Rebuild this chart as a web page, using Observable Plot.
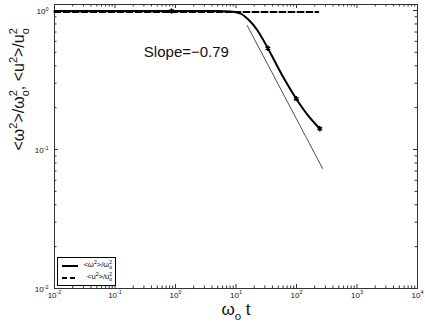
<!DOCTYPE html>
<html>
<head>
<meta charset="utf-8">
<script src="https://cdn.jsdelivr.net/npm/d3@7"></script>
<script src="https://cdn.jsdelivr.net/npm/@observablehq/plot@0.6"></script>
<style>
  body { margin: 0; background: #fff; }
  #chart { width: 425px; height: 327px; }
  svg text { font-family: "Liberation Sans", Arial, Helvetica, sans-serif; }
</style>
</head>
<body>
<div id="chart"></div>
<script>
// ---- data ----
const omegaT     = [0.01, 0.86, 5, 8.2, 11.9, 16, 22.4, 33.6, 58, 99, 150, 243];
const omegaRatio = [0.99, 0.99, 0.99, 0.985, 0.95, 0.86, 0.724, 0.535, 0.342, 0.232, 0.179, 0.141];
const markerT     = [0.86, 33.6, 99, 243];
const markerRatio = [0.99, 0.535, 0.232, 0.141];
const uT     = [0.01, 229];
const uRatio = [0.975, 0.975];
const slopeT     = [15.3, 270];
const slopeRatio = [0.78, 0.073];
const slopeLabel = "Slope=−0.79";
const slopeLabelT = 0.3;
const slopeLabelRatio = 0.5;
const xTickExp = [-2, -1, 0, 1, 2, 3, 4];
const yTickExp = [-2, -1, 0];
const xLabel = "ω_{o} t";
const yLabel = "<ω^{2}>/ω^{2}_{o}, <u^{2}>/u^{2}_{o}";
const legendLabels = ["<ω^{2}>/ω^{2}_{o}", "<u^{2}>/u^{2}_{o}"];

// ---- layout ----
const W = 425, H = 327;
const mL = 54, mR = 8, mT = 4, mB = 39;
const innerW = W - mL - mR, innerH = H - mT - mB;
const MAJ = 4, MIN = 2.5;
const axisColor = "#333";

const omegaData = omegaT.map((t, i) => ({t, r: omegaRatio[i]}));
const markerData = markerT.map((t, i) => ({t, r: markerRatio[i]}));
const uData = uT.map((t, i) => ({t, r: uRatio[i]}));
const slopeData = slopeT.map((t, i) => ({t, r: slopeRatio[i]}));

const majorX = xTickExp.map(e => 10 ** e);
const minorX = [];
for (let e = xTickExp[0]; e < xTickExp[xTickExp.length - 1]; e++) for (let m = 2; m <= 9; m++) minorX.push(m * 10 ** e);
const majorY = yTickExp.map(e => 10 ** e);
const minorY = [];
for (let e = yTickExp[0]; e < yTickExp[yTickExp.length - 1]; e++) for (let m = 2; m <= 9; m++) minorY.push(m * 10 ** e);

const chart = Plot.plot({
  width: W, height: H,
  marginLeft: mL, marginRight: mR, marginTop: mT, marginBottom: mB,
  style: {background: "white", color: "#111", fontFamily: "Liberation Sans, Arial, sans-serif"},
  x: {type: "log", domain: [1e-2, 1e4], axis: null},
  y: {type: "log", domain: [0.01, 1.104], axis: null},
  marks: [
    // ticks inward on all four sides
    Plot.tickX(majorX, {x: d => d, stroke: axisColor, insetTop: innerH - MAJ}),
    Plot.tickX(majorX, {x: d => d, stroke: axisColor, insetBottom: innerH - MAJ}),
    Plot.tickX(minorX, {x: d => d, stroke: axisColor, insetTop: innerH - MIN}),
    Plot.tickX(minorX, {x: d => d, stroke: axisColor, insetBottom: innerH - MIN}),
    Plot.tickY(majorY, {y: d => d, stroke: axisColor, insetRight: innerW - MAJ}),
    Plot.tickY(majorY, {y: d => d, stroke: axisColor, insetLeft: innerW - MAJ}),
    Plot.tickY(minorY, {y: d => d, stroke: axisColor, insetRight: innerW - MIN}),
    Plot.tickY(minorY, {y: d => d, stroke: axisColor, insetLeft: innerW - MIN}),
    Plot.frame({stroke: axisColor}),
    // tick labels
    Plot.text(xTickExp, {x: e => 10 ** e, text: e => `10^{${e}}`, frameAnchor: "bottom", dy: 9, fontSize: 8}),
    Plot.text(yTickExp, {y: e => 10 ** e, text: e => `10^{${e}}`, frameAnchor: "left", textAnchor: "end", dx: -6, dy: 1, fontSize: 8}),
    // data
    Plot.line(slopeData, {x: "t", y: "r", stroke: "#222", strokeWidth: 0.8}),
    Plot.line(uData, {x: "t", y: "r", stroke: "black", strokeWidth: 2, strokeDasharray: "6,3"}),
    Plot.line(omegaData, {x: "t", y: "r", stroke: "black", strokeWidth: 2, curve: "monotone-x"}),
    Plot.dot(markerData, {x: "t", y: "r", symbol: "asterisk", r: 2.5, stroke: "black", strokeWidth: 1.5}),
    Plot.text([slopeLabel], {x: () => slopeLabelT, y: () => slopeLabelRatio, text: d => d, textAnchor: "start", fontSize: 15}),
    // axis titles
    Plot.text([xLabel], {text: d => d, frameAnchor: "bottom", dy: 26, fontSize: 17}),
    Plot.text([yLabel], {text: d => d, frameAnchor: "left", rotate: -90, dx: -36, dy: 4, fontSize: 16})
  ]
});

document.getElementById("chart").appendChild(chart);

// ---- legend (inside the plot, lower left) ----
const svg = d3.select(chart);
const lg = svg.append("g").attr("font-family", "Liberation Sans, Arial, sans-serif");
lg.append("rect").attr("x", 57.5).attr("y", 257.5).attr("width", 58).attr("height", 28)
  .attr("fill", "white").attr("stroke", "black").attr("stroke-width", 1);
legendLabels.forEach((lab, i) => {
  const y = 266 + i * 12;
  lg.append("line").attr("x1", 62).attr("x2", 78).attr("y1", y).attr("y2", y)
    .attr("stroke", "black").attr("stroke-width", 2)
    .attr("stroke-dasharray", i === 1 ? "5,3" : null);
  lg.append("text").attr("x", 112).attr("y", y + 1).attr("text-anchor", "end")
    .attr("font-size", 7.5).attr("fill", "black").text(lab);
});

// ---- convert ^{..} and _{..} markup into real super/subscript tspans ----
function richify(el) {
  const src = el.textContent;
  if (!/[\^_]\{/.test(src)) return;
  const fs = parseFloat(getComputedStyle(el).fontSize) || 10;
  const segs = [];
  let i = 0, buf = "";
  while (i < src.length) {
    const c = src[i];
    if ((c === "^" || c === "_") && src[i + 1] === "{") {
      if (buf) { segs.push({t: buf, k: 0}); buf = ""; }
      const j = src.indexOf("}", i + 2);
      segs.push({t: src.slice(i + 2, j), k: c === "^" ? 1 : -1});
      i = j + 1;
    } else { buf += c; i++; }
  }
  if (buf) segs.push({t: buf, k: 0});
  el.textContent = "";
  let cur = 0, prevSup = null;
  for (const s of segs) {
    const ts = document.createElementNS("http://www.w3.org/2000/svg", "tspan");
    ts.textContent = s.t;
    const target = s.k === 1 ? -0.42 * fs : s.k === -1 ? 0.32 * fs : 0;
    const dy = target - cur;
    if (dy) ts.setAttribute("dy", dy.toFixed(2));
    cur = target;
    if (s.k) ts.setAttribute("font-size", (0.68 * fs).toFixed(2));
    el.appendChild(ts);
    if (s.k === -1 && prevSup) ts.setAttribute("dx", (-prevSup.getComputedTextLength()).toFixed(2));
    prevSup = s.k === 1 ? ts : null;
  }
}
chart.querySelectorAll("text").forEach(richify);
</script>
</body>
</html>
